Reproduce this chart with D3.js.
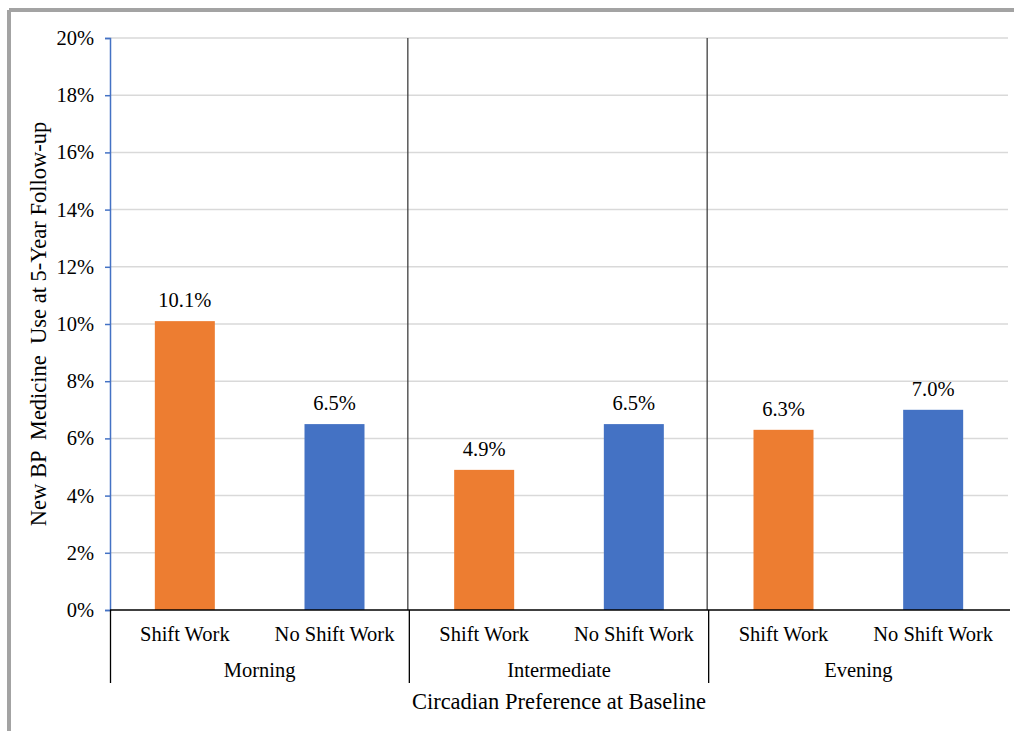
<!DOCTYPE html>
<html>
<head>
<meta charset="utf-8">
<script src="https://cdn.jsdelivr.net/npm/d3@7"></script>
<style>
  body { margin: 0; background: #fff; }
  text { font-family: "Liberation Serif", "Times New Roman", serif; fill: #000; }
</style>
</head>
<body>
<script>
// chart data
var groups = ["Morning", "Intermediate", "Evening"];
var subgroups = ["Shift Work", "No Shift Work"];
var shiftWork = [10.1, 4.9, 6.3];
var noShiftWork = [6.5, 6.5, 7.0];
var yTicks = [0, 2, 4, 6, 8, 10, 12, 14, 16, 18, 20];
var yTitle = "New BP  Medicine  Use at 5-Year Follow-up";
var xTitle = "Circadian Preference at Baseline";

var W = 1014, H = 731;
var margin = {top: 38, left: 110, right: 6, bottom: 121};
var w = W - margin.left - margin.right;
var h = H - margin.top - margin.bottom;
var fs = "20.5px";

var svg = d3.select("body").append("svg")
  .attr("width", W)
  .attr("height", H);

// outer frame (top + left)
svg.append("line").attr("x1", 9).attr("x2", W).attr("y1", 10).attr("y2", 10)
  .attr("stroke", "#a3a3a3").attr("stroke-width", 4);
svg.append("line").attr("x1", 9).attr("x2", 9).attr("y1", 10).attr("y2", H)
  .attr("stroke", "#a3a3a3").attr("stroke-width", 4);

var g = svg.append("g")
  .attr("transform", "translate(" + margin.left + "," + margin.top + ")");

var data = [];
groups.forEach(function(grp, i) {
  data.push({group: grp, sub: subgroups[0], value: shiftWork[i]});
  data.push({group: grp, sub: subgroups[1], value: noShiftWork[i]});
});

var x0 = d3.scaleBand().domain(groups).range([0, w]);
var x1 = d3.scaleBand().domain(subgroups).range([0, x0.bandwidth()]);
var y = d3.scaleLinear().domain([0, 20]).range([h, 0]);
var color = d3.scaleOrdinal().domain(subgroups).range(["#ed7d31", "#4472c4"]);

// gridlines
g.selectAll(".grid").data(yTicks.slice(1)).enter().append("line")
  .attr("class", "grid")
  .attr("x1", 0).attr("x2", w)
  .attr("y1", function(d) { return y(d); })
  .attr("y2", function(d) { return y(d); })
  .attr("stroke", "#d9d9d9").attr("stroke-width", 1.5);

// group separators inside plot
g.selectAll(".sep").data(groups.slice(1)).enter().append("line")
  .attr("class", "sep")
  .attr("x1", function(d) { return x0(d) - 1.5; })
  .attr("x2", function(d) { return x0(d) - 1.5; })
  .attr("y1", 0).attr("y2", h)
  .attr("stroke", "#404040").attr("stroke-width", 1.3);

// y axis
var yAxis = d3.axisLeft(y).tickValues(yTicks)
  .tickFormat(function(d) { return d + "%"; })
  .tickSize(5).tickPadding(11);
var ya = g.append("g").call(yAxis);
ya.select(".domain").attr("stroke", "#4472c4").attr("stroke-width", 1.5);
ya.selectAll(".tick line").attr("stroke", "#4472c4").attr("stroke-width", 1.5);
ya.selectAll(".tick text")
  .style("font-family", "Liberation Serif, serif")
  .style("font-size", fs).attr("fill", "#000");

// bars
var barW = 60;
g.selectAll(".bar").data(data).enter().append("rect")
  .attr("class", "bar")
  .attr("x", function(d) { return x0(d.group) + x1(d.sub) + x1.bandwidth() / 2 - barW / 2; })
  .attr("y", function(d) { return y(d.value); })
  .attr("width", barW)
  .attr("height", function(d) { return h - y(d.value); })
  .attr("fill", function(d) { return color(d.sub); });

// value labels
g.selectAll(".lbl").data(data).enter().append("text")
  .attr("class", "lbl")
  .attr("x", function(d) { return x0(d.group) + x1(d.sub) + x1.bandwidth() / 2; })
  .attr("y", function(d) { return y(d.value) - 14; })
  .attr("text-anchor", "middle")
  .style("font-size", fs)
  .text(function(d) { return d.value.toFixed(1) + "%"; });

// x axis baseline
g.append("line").attr("x1", 0).attr("x2", w + 2).attr("y1", h).attr("y2", h)
  .attr("stroke", "#000").attr("stroke-width", 1.5);

// group dividers below axis
var divs = groups.map(function(d) { return x0(d); });
g.selectAll(".div").data(divs).enter().append("line")
  .attr("class", "div")
  .attr("x1", function(d, i) { return i === 0 ? d + 0.5 : d; })
  .attr("x2", function(d, i) { return i === 0 ? d + 0.5 : d; })
  .attr("y1", h).attr("y2", h + 73)
  .attr("stroke", "#000").attr("stroke-width", 1.3);

// subgroup labels
g.selectAll(".sublbl").data(data).enter().append("text")
  .attr("class", "sublbl")
  .attr("x", function(d) { return x0(d.group) + x1(d.sub) + x1.bandwidth() / 2; })
  .attr("y", h + 31)
  .attr("text-anchor", "middle")
  .style("font-size", fs)
  .text(function(d) { return d.sub; });

// group labels
g.selectAll(".grplbl").data(groups).enter().append("text")
  .attr("class", "grplbl")
  .attr("x", function(d) { return x0(d) + x0.bandwidth() / 2; })
  .attr("y", h + 67)
  .attr("text-anchor", "middle")
  .style("font-size", fs)
  .text(function(d) { return d; });

// axis titles
g.append("text")
  .attr("x", w / 2).attr("y", h + 99)
  .attr("text-anchor", "middle")
  .style("font-size", "22.5px")
  .text(xTitle);

g.append("text")
  .attr("transform", "rotate(-90)")
  .attr("x", -h / 2 + 0).attr("y", -64)
  .attr("text-anchor", "middle")
  .style("font-size", "22.5px")
  .style("white-space", "pre")
  .text(yTitle);
</script>
</body>
</html>
